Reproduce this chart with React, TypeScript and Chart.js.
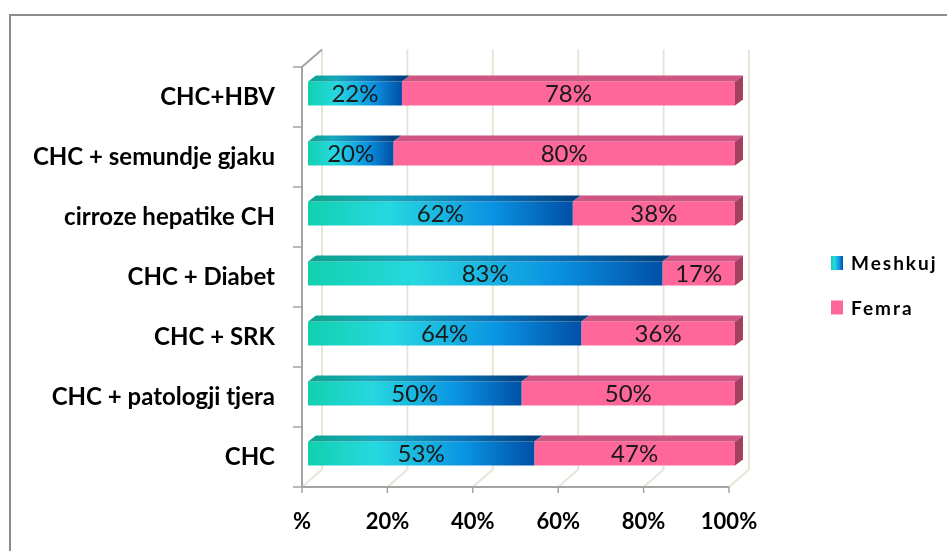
import React, { useEffect, useRef } from 'react';
import { Chart, registerables } from 'chart.js';

Chart.register(...registerables);

// Diagnoses (top to bottom) and share of each sex, in percent
const categories = [
  'CHC+HBV',
  'CHC + semundje gjaku',
  'cirroze hepatike CH',
  'CHC + Diabet',
  'CHC + SRK',
  'CHC + patologji tjera',
  'CHC',
];
const meshkuj = [22, 20, 62, 83, 64, 50, 53];
const femra = [78, 80, 38, 17, 36, 50, 47];
const seriesNames = ['Meshkuj', 'Femra'];
const xTickLabels = ['%', '20%', '40%', '60%', '80%', '100%'];

const FONT = 'Lato, "Open Sans", "DejaVu Sans", sans-serif';
const PINK = '#ff6699';
const PINK_TOP = '#cf5583';
const PINK_SIDE = '#a3405f';
const WALL_GRID = '#e8e5d8';
const AXIS_GRAY = '#a3a3a3';

// 3D offsets relative to the plane the bars' front faces sit in
const FRONT = { dx: -6, dy: 3.5 };
const BACK = { dx: 14, dy: -14 };
const BAR_DEPTH = { dx: 8, dy: -6 };

function blueGradient(ctx: CanvasRenderingContext2D, x0: number, x1: number, dark = false) {
  const g = ctx.createLinearGradient(x0, 0, x1, 0);
  if (dark) {
    g.addColorStop(0, '#0ea48c');
    g.addColorStop(0.3, '#16a8bd');
    g.addColorStop(0.7, '#0a6fb5');
    g.addColorStop(1, '#00427f');
  } else {
    g.addColorStop(0, '#12d0ae');
    g.addColorStop(0.3, '#26d8e0');
    g.addColorStop(0.7, '#0a92e2');
    g.addColorStop(1, '#0050a6');
  }
  return g;
}

const frame3d = {
  id: 'frame3d',
  beforeDraw(chart: any) {
    const { ctx, width, height } = chart;
    ctx.save();
    ctx.fillStyle = '#ffffff';
    ctx.fillRect(0, 0, width, height);
    ctx.strokeStyle = '#8c8c8c';
    ctx.lineWidth = 2;
    ctx.strokeRect(10, 15, width + 20, height + 20);
    ctx.restore();
  },
  beforeDatasetsDraw(chart: any) {
    const { ctx, chartArea, scales } = chart;
    const { top, bottom } = chartArea;
    const xs = scales.x;
    const ticks = xs.ticks.map((t: any) => xs.getPixelForValue(t.value));
    ctx.save();
    ctx.lineCap = 'butt';

    // back wall gridlines and floor diagonals
    ctx.strokeStyle = WALL_GRID;
    ctx.lineWidth = 2;
    ticks.forEach((px: number) => {
      ctx.beginPath();
      ctx.moveTo(px + BACK.dx, top + BACK.dy);
      ctx.lineTo(px + BACK.dx, bottom + BACK.dy);
      ctx.lineTo(px + FRONT.dx, bottom + FRONT.dy);
      ctx.stroke();
    });

    // left wall edge, its top edge and category tick marks
    const x0 = ticks[0] + FRONT.dx;
    ctx.strokeStyle = AXIS_GRAY;
    ctx.lineWidth = 2;
    ctx.beginPath();
    ctx.moveTo(ticks[0] + BACK.dx, top + BACK.dy);
    ctx.lineTo(x0, top + FRONT.dy);
    ctx.lineTo(x0, bottom + FRONT.dy);
    ctx.lineTo(ticks[ticks.length - 1] + FRONT.dx, bottom + FRONT.dy);
    ctx.stroke();

    const n = categories.length;
    ctx.lineWidth = 1.5;
    for (let i = 0; i <= n; i++) {
      const yb = top + ((bottom - top) * i) / n + FRONT.dy;
      ctx.beginPath();
      ctx.moveTo(x0 - 9, yb);
      ctx.lineTo(x0, yb);
      ctx.stroke();
    }
    ticks.forEach((px: number) => {
      ctx.beginPath();
      ctx.moveTo(px + FRONT.dx, bottom + FRONT.dy);
      ctx.lineTo(px + FRONT.dx, bottom + FRONT.dy + 6);
      ctx.stroke();
    });
    ctx.restore();
  },
  afterDatasetsDraw(chart: any) {
    const { ctx } = chart;
    ctx.save();
    const metas = chart.getSortedVisibleDatasetMetas();
    metas.forEach((meta: any, di: number) => {
      const last = di === metas.length - 1;
      meta.data.forEach((el: any, i: number) => {
        const { x, y, base, height } = el.getProps(['x', 'y', 'base', 'height'], true);
        const l = Math.min(x, base);
        const r = Math.max(x, base);
        const t = y - height / 2;
        const b = y + height / 2;
        // top face
        ctx.beginPath();
        ctx.moveTo(l, t);
        ctx.lineTo(l + BAR_DEPTH.dx, t + BAR_DEPTH.dy);
        ctx.lineTo(r + BAR_DEPTH.dx, t + BAR_DEPTH.dy);
        ctx.lineTo(r, t);
        ctx.closePath();
        ctx.fillStyle = di === 0 ? blueGradient(ctx, l, r, true) : PINK_TOP;
        ctx.fill();
        // right side face at the end of the stack
        if (last) {
          ctx.beginPath();
          ctx.moveTo(r, t);
          ctx.lineTo(r + BAR_DEPTH.dx, t + BAR_DEPTH.dy);
          ctx.lineTo(r + BAR_DEPTH.dx, b + BAR_DEPTH.dy);
          ctx.lineTo(r, b);
          ctx.closePath();
          ctx.fillStyle = PINK_SIDE;
          ctx.fill();
        }
        // value label
        const value = chart.data.datasets[meta.index].data[i];
        ctx.fillStyle = '#1a1a1a';
        ctx.font = `24px ${FONT}`;
        ctx.textAlign = 'center';
        ctx.textBaseline = 'middle';
        ctx.fillText(`${value}%`, (l + r) / 2, y + 1);
      });
    });
    ctx.restore();
  },
  afterDraw(chart: any) {
    const { ctx } = chart;
    ctx.save();
    const items = [
      { label: seriesNames[0], cy: 263, blue: true },
      { label: seriesNames[1], cy: 307.5, blue: false },
    ];
    items.forEach((it) => {
      ctx.fillStyle = it.blue ? blueGradient(ctx, 831, 843) : PINK;
      ctx.fillRect(831, it.cy - 7, 12, 14);
      ctx.fillStyle = '#000000';
      ctx.font = `bold 19px ${FONT}`;
      (ctx as any).letterSpacing = '2px';
      ctx.textAlign = 'left';
      ctx.textBaseline = 'middle';
      ctx.fillText(it.label, 851, it.cy + 1);
      (ctx as any).letterSpacing = '0px';
    });
    ctx.restore();
  },
};

export default function App() {
  const canvasRef = useRef<HTMLCanvasElement | null>(null);

  useEffect(() => {
    const canvas = canvasRef.current;
    if (!canvas) return;
    const chart = new Chart(canvas, {
      type: 'bar',
      data: {
        labels: categories,
        datasets: [
          {
            label: seriesNames[0],
            data: meshkuj,
            backgroundColor: (c: any) => {
              const ch = c.chart;
              if (!ch.chartArea || c.raw == null) return '#0a92e2';
              const xs = ch.scales.x;
              return blueGradient(ch.ctx, xs.getPixelForValue(0), xs.getPixelForValue(c.raw));
            },
            borderWidth: 0,
            barPercentage: 0.4,
            categoryPercentage: 1,
          },
          {
            label: seriesNames[1],
            data: femra,
            backgroundColor: PINK,
            borderWidth: 0,
            barPercentage: 0.4,
            categoryPercentage: 1,
          },
        ],
      },
      options: {
        indexAxis: 'y',
        animation: false,
        responsive: false,
        devicePixelRatio: 1,
        layout: { padding: { left: 0, right: 212, top: 63.5, bottom: 0 } },
        plugins: {
          legend: { display: false },
          tooltip: { enabled: false },
        },
        scales: {
          x: {
            stacked: true,
            min: 0,
            max: 100,
            grid: { display: false, drawTicks: false },
            border: { display: false },
            afterFit: (s: any) => {
              s.height = 67.5;
            },
            ticks: {
              stepSize: 20,
              labelOffset: -6,
              padding: 25,
              color: '#000000',
              font: { family: FONT, size: 22, weight: 'bold' },
              callback: (_v: any, i: number) => xTickLabels[i],
            },
          },
          y: {
            stacked: true,
            grid: { display: false, drawTicks: false },
            border: { display: false },
            afterFit: (s: any) => {
              s.width = 308;
            },
            ticks: {
              padding: 33,
              labelOffset: 3.5,
              color: '#000000',
              font: { family: FONT, size: 24, weight: 'bold' },
            },
          },
        },
      },
      plugins: [frame3d],
    } as any);
    return () => chart.destroy();
  }, []);

  return (
    <div style={{ position: 'fixed', left: 0, top: 0, width: 947, height: 551, background: '#fff' }}>
      <canvas ref={canvasRef} width={947} height={551} style={{ display: 'block' }} />
    </div>
  );
}
